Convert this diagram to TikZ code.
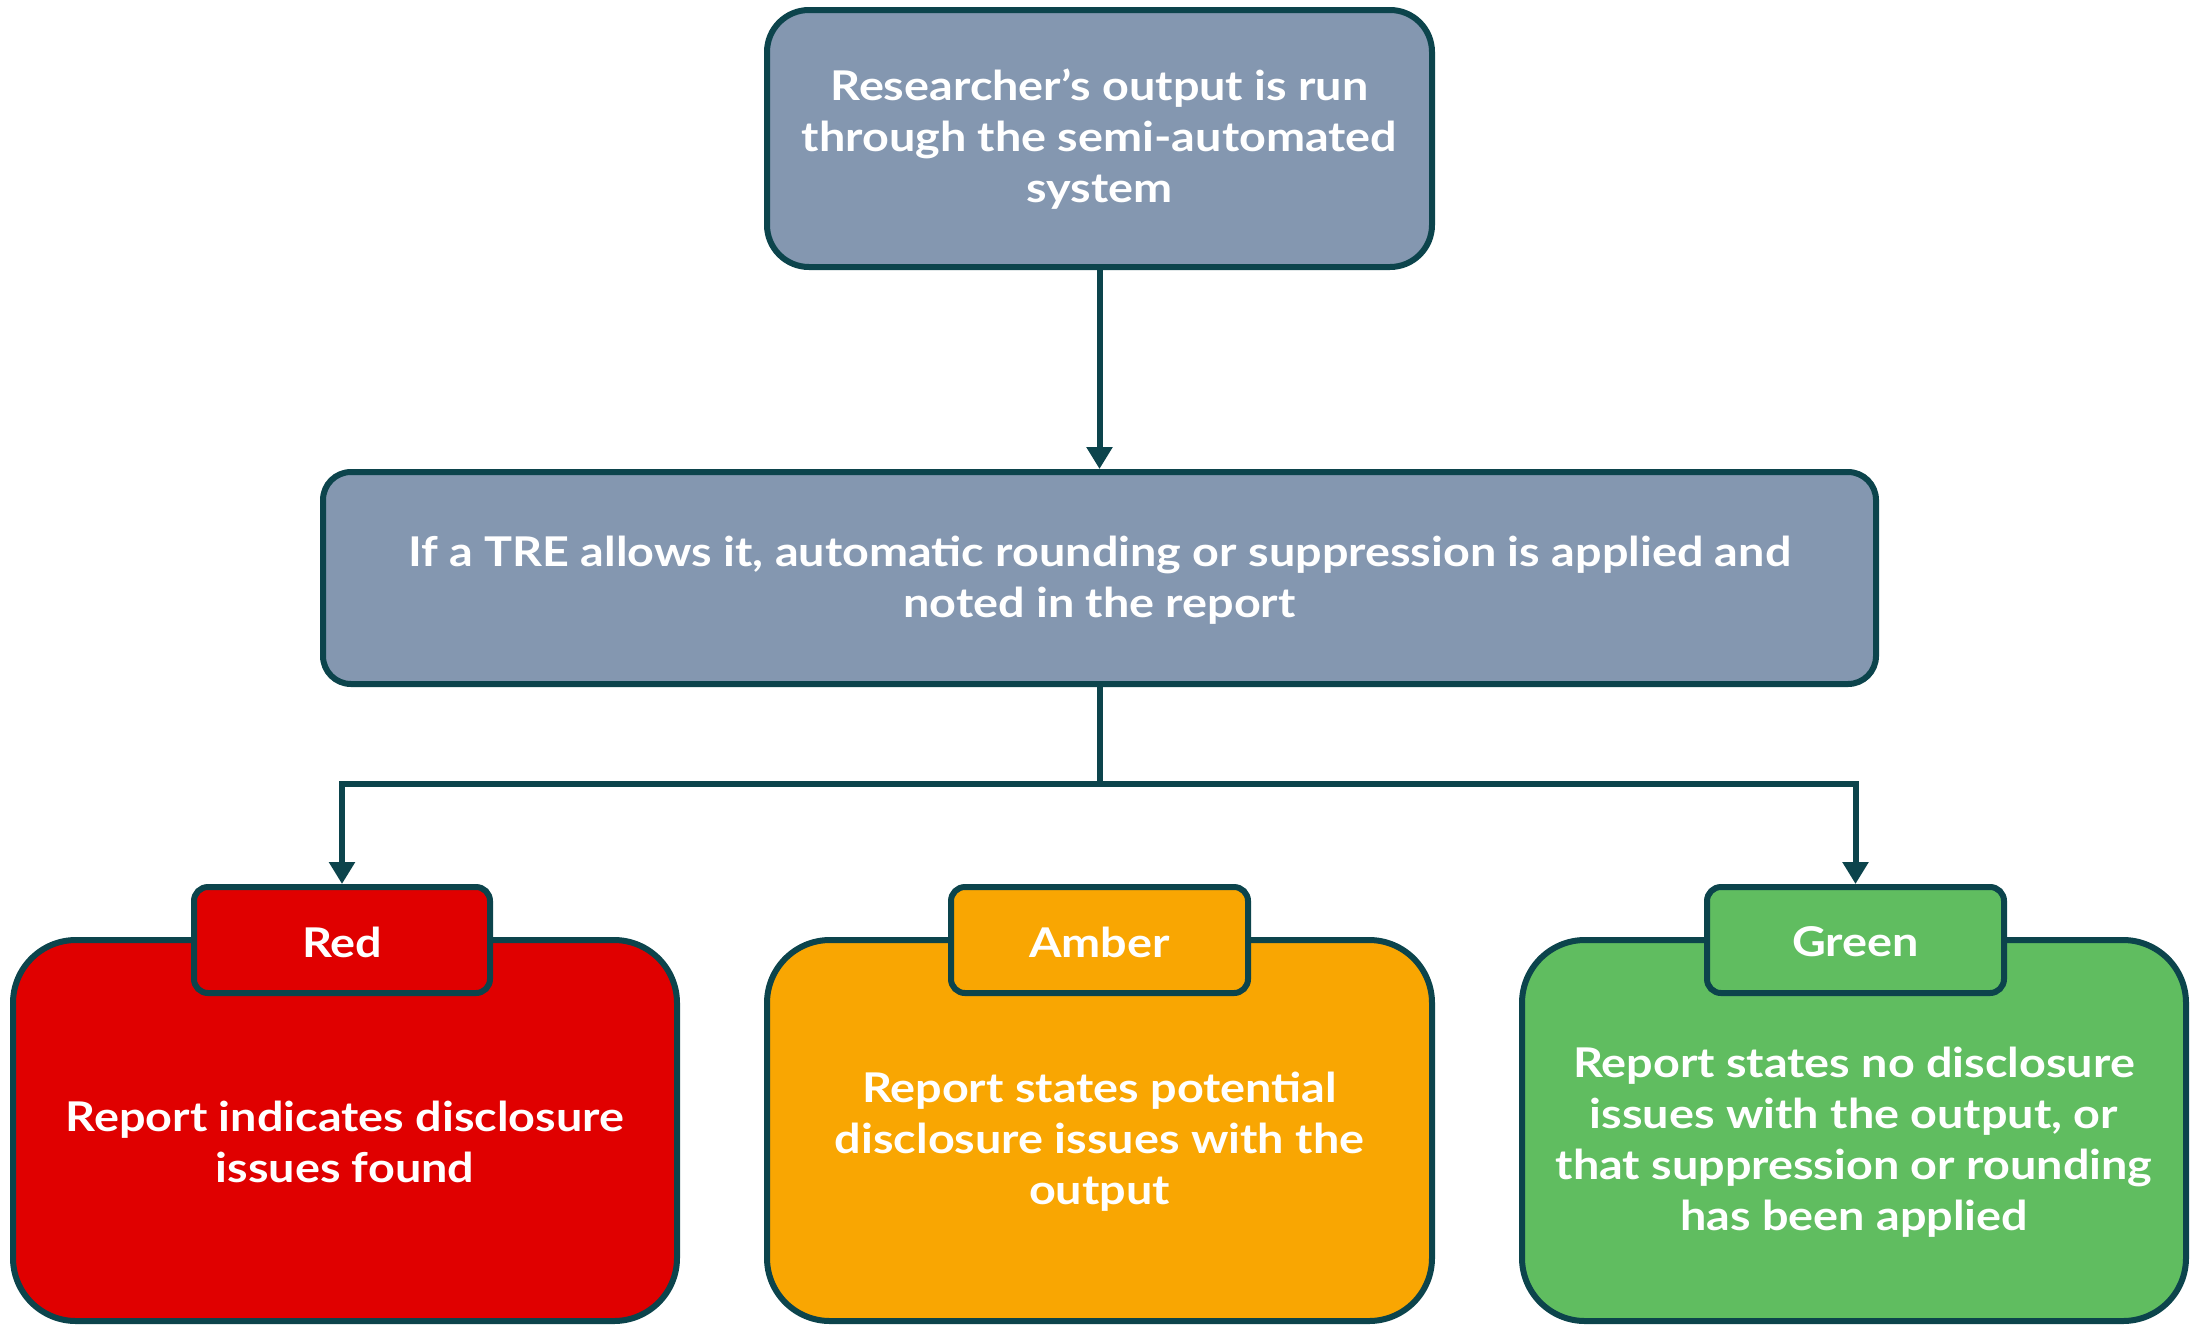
\documentclass[tikz,border=0pt]{standalone}
\usepackage{fontspec}
\setmainfont{Lato}[BoldFont={Lato Bold},BoldFeatures={FakeStretch=1.14}]
\usetikzlibrary{arrows.meta}
\definecolor{edge}{HTML}{0C444C}
\definecolor{slate}{HTML}{8497B0}
\definecolor{rred}{HTML}{E00000}
\definecolor{ramber}{HTML}{F9A602}
\definecolor{rgreen}{HTML}{60BD60}
\tikzset{
  box/.style={draw=edge, line width=6pt, rectangle, inner sep=0pt},
  txt/.style={text=white, align=center, font=\bfseries\fontsize{41}{51}\selectfont, inner sep=0pt},
  conn/.style={draw=edge, line width=6pt, -{Triangle[width=25pt,length=22pt]}},
}
\begin{document}
\begin{tikzpicture}[x=1pt,y=-1pt]
\useasboundingbox (0,0) rectangle (2203,1326);
% top box
\node[box, fill=slate, rounded corners=42pt, minimum width=665pt, minimum height=257pt] (top) at (1099.5,138.5) {};
\node[txt] (toptxt) at (1099.5,139) {Researcher’s output is run\\through the semi-automated\\system};
% middle box
\node[box, fill=slate, rounded corners=28pt, minimum width=1553pt, minimum height=212pt] (mid) at (1099.5,578) {};
\node[txt] (midtxt) at (1099.5,580) {If a TRE allows it, automatic rounding or suppression is applied and\\noted in the report};
% big boxes
\node[box, fill=rred, rounded corners=63pt, minimum width=664pt, minimum height=381pt] (redbox) at (345,1130.5) {};
\node[box, fill=ramber, rounded corners=63pt, minimum width=665pt, minimum height=381pt] (amberbox) at (1099.5,1130.5) {};
\node[box, fill=rgreen, rounded corners=63pt, minimum width=664pt, minimum height=381pt] (greenbox) at (1854,1130.5) {};
\node[txt] (redtxt) at (345,1142) {Report indicates disclosure\\issues found};
\node[txt] (ambertxt) at (1099.5,1142) {Report states potential\\disclosure issues with the\\output};
\node[txt] (greentxt) at (1854,1142) {Report states no disclosure\\issues with the output, or\\that suppression or rounding\\has been applied};
% labels
\node[box, fill=rred, rounded corners=14pt, minimum width=296pt, minimum height=106pt] (redlab) at (342,940) {};
\node[box, fill=ramber, rounded corners=14pt, minimum width=297pt, minimum height=106pt] (amberlab) at (1099.5,940) {};
\node[box, fill=rgreen, rounded corners=14pt, minimum width=297pt, minimum height=106pt] (greenlab) at (1855.5,940) {};
\node[txt] (redlabt) at (342,942) {Red};
\node[txt] (amberlabt) at (1099.5,942) {Amber};
\node[txt] (greenlabt) at (1855.5,942) {Green};
% connectors
\coordinate (split) at (1099.5,784);
\draw[conn] (top.south) -- (mid.north);
\draw[draw=edge, line width=6pt] (mid.south) -- (split);
\draw[conn] (split) -| (redlab.north);
\draw[conn] (split) -| (greenlab.north);
\end{tikzpicture}
\end{document}
